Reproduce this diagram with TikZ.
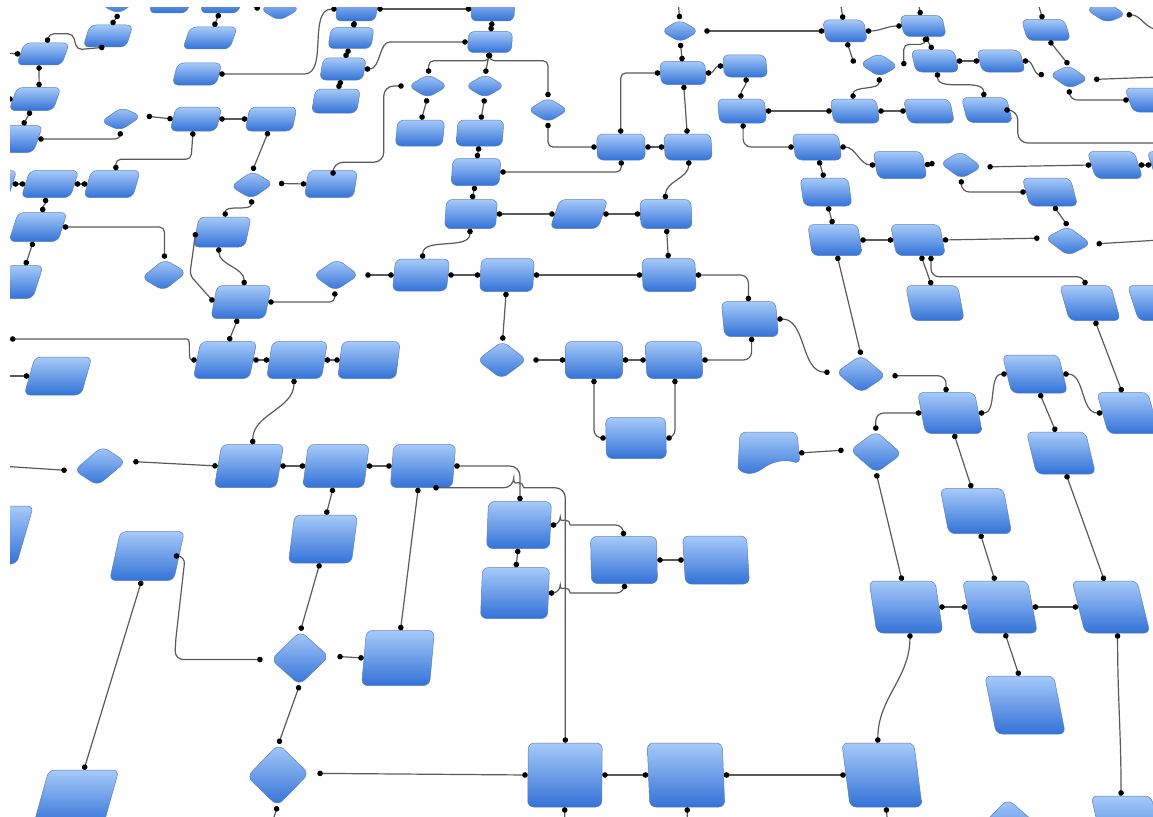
\documentclass[tikz,border=0pt]{standalone}
\usepackage{tikz}
\usetikzlibrary{shapes.geometric,arrows.meta}
\definecolor{FlowTop}{HTML}{A6CAF9}
\definecolor{FlowBottom}{HTML}{3372D7}
\definecolor{FlowEdge}{HTML}{5A82C0}
\definecolor{FlowLine}{HTML}{5A5A5A}

\begin{document}
\begin{tikzpicture}[
    x=1pt, y=-1pt,
    box/.style={rectangle, rounded corners=6pt, draw=FlowEdge, line width=0.5pt, top color=FlowTop, bottom color=FlowBottom, inner sep=0pt},
    dec/.style={diamond, rounded corners=7pt, draw=FlowEdge, line width=0.5pt, top color=FlowTop, bottom color=FlowBottom, inner sep=0pt},
    sz/.style 2 args={minimum width=#1, minimum height=#2},
    Dt/.tip={Circle[length=5.5pt, color=black]},
    link/.style={draw=FlowLine, line width=1.2pt, rounded corners=5pt, Dt-Dt}
  ]
  \useasboundingbox (0,0) rectangle (1153,816);
  \clip (10,8) rectangle (1153,816);

  \node[dec, sz={36}{22}, xslant=.15, rotate=7] (p0) at (119,3) {};
  \node[box, sz={38}{22}, xslant=.28] (p1) at (171,2) {};
  \node[box, sz={38}{22}, xslant=.25] (p2) at (222,2) {};
  \node[dec, sz={40}{24}, xslant=.1] (p3) at (280,9) {};
  \node[box, sz={43}{22}, xslant=.31] (A) at (108,36) {};
  \node[box, sz={47}{22}, xslant=.35] (a2) at (210,38) {};
  \node[box, sz={44}{22}, xslant=.25] (a3) at (197,74) {};
  \node[box, sz={45}{22}, xslant=.35] (B) at (43,54) {};
  \node[box, sz={44}{23}, xslant=.35] (C) at (35,99) {};
  \node[box, sz={40}{27}, xslant=.35] (D) at (18,139) {};
  \node[dec, sz={40}{24}, xslant=.2, rotate=8] (E) at (121,119) {};
  \node[box, sz={46}{24}, xslant=.24] (F) at (196,119) {};
  \node[box, sz={47}{24}, xslant=.2] (G) at (271,119) {};
  \node[box, sz={45}{27}, xslant=.33] (IL) at (-10,184) {};
  \node[box, sz={49}{27}, xslant=.32] (I) at (50,184) {};
  \node[box, sz={49}{27}, xslant=.28] (H) at (112,184) {};
  \node[box, sz={49}{29}, xslant=.32] (J) at (38,227) {};
  \node[dec, sz={45}{32}, xslant=.15, rotate=7] (K) at (164,275) {};
  \node[box, sz={36}{33}, xslant=.32] (L) at (20,282) {};
  \node[dec, sz={43}{28}, xslant=.1, rotate=4] (M) at (252,185) {};
  \node[box, sz={49}{27}, xslant=.15] (N) at (331,184) {};
  \node[box, sz={52}{30}, xslant=.21] (O) at (222,232) {};
  \node[box, sz={54}{33}, xslant=.19] (P) at (241,302) {};
  \node[dec, sz={46}{32}, xslant=.07] (Q) at (336,275) {};
  \node[box, sz={54}{32}, xslant=.1] (R) at (421,275) {};
  \node[box, sz={40}{24}, xslant=.15] (c1) at (357,9) {};
  \node[box, sz={43}{21}, xslant=.16] (c2) at (351,38) {};
  \node[box, sz={43}{22}, xslant=.16] (c3) at (343,69) {};
  \node[box, sz={45}{24}, xslant=.16] (c4) at (336,101) {};
  \node[box, sz={43}{24}, xslant=.06] (S) at (493,9) {};
  \node[box, sz={44}{21}, xslant=.06] (T) at (490,42) {};
  \node[dec, sz={40}{24}, xslant=.05] (U) at (428,86) {};
  \node[dec, sz={40}{24}, xslant=.03] (V) at (485,86) {};
  \node[dec, sz={41}{25}] (W) at (548,110) {};
  \node[box, sz={47}{26}, xslant=.1] (X) at (420,133) {};
  \node[box, sz={46}{26}, xslant=.07] (Y) at (480,133) {};
  \node[box, sz={48}{27}, xslant=.07] (Z) at (476,172) {};
  \node[box, sz={51}{29}, xslant=.07] (AH) at (471,214) {};
  \node[box, sz={48}{29}, xslant=.34] (AG) at (579,214) {};
  \node[box, sz={48}{26}, xslant=-.02] (AA) at (621,147) {};
  \node[box, sz={47}{26}, xslant=-.06] (AB) at (688,147) {};
  \node[dec, sz={38}{23}, xslant=-.03] (AC) at (680,31) {};
  \node[box, sz={45}{23}, xslant=-.06] (AD) at (683,73) {};
  \node[box, sz={43}{22}, xslant=-.1] (AE) at (745,66) {};
  \node[box, sz={47}{24}, xslant=-.09] (AF) at (742,111) {};
  \node[box, sz={51}{29}, xslant=-.04] (AI) at (666,214) {};
  \node[box, sz={53}{33}, xslant=.05] (AK) at (507,275) {};
  \node[box, sz={53}{33}, xslant=-.04] (AL) at (669,275) {};
  \node[box, sz={54}{35}, xslant=-.09] (AM) at (750,319) {};
  \node[box, sz={41}{22}, xslant=-.17] (BA) at (845,31) {};
  \node[box, sz={42}{21}, xslant=-.22] (BB) at (923,26) {};
  \node[dec, sz={39}{24}, xslant=-.09, rotate=-4] (BC) at (879,65) {};
  \node[box, sz={43}{22}, xslant=-.22] (BD) at (935,61) {};
  \node[box, sz={43}{22}, xslant=-.26] (BE) at (1001,61) {};
  \node[dec, sz={39}{24}, xslant=-.15, rotate=-7] (BF) at (1069,77) {};
  \node[box, sz={43}{21}, xslant=-.3] (BG) at (1046,30) {};
  \node[box, sz={42}{24}, xslant=-.35] (BH) at (1150,100) {};
  \node[dec, sz={40}{22}, xslant=-.17, rotate=-8] (DQ) at (1106,12) {};
  \node[box, sz={46}{24}, xslant=-.16] (BI) at (855,111) {};
  \node[box, sz={46}{24}, xslant=-.21] (BJ) at (929,111) {};
  \node[box, sz={45}{25}, xslant=-.25] (BK) at (987,110) {};
  \node[box, sz={46}{26}, xslant=-.14] (BL) at (817,147) {};
  \node[box, sz={49}{27}, xslant=-.19] (BM) at (900,165) {};
  \node[dec, sz={42}{28}, xslant=-.11, rotate=-5] (BN) at (961,165) {};
  \node[box, sz={47}{27}, xslant=-.32] (BO) at (1115,165) {};
  \node[box, sz={47}{27}, xslant=-.34] (BO2) at (1175,165) {};
  \node[box, sz={48}{28}, xslant=-.27] (BP) at (1050,192) {};
  \node[dec, sz={46}{30}, xslant=-.14, rotate=-7] (BQ) at (1068,241) {};
  \node[box, sz={48}{28}, xslant=-.14] (BR) at (826,192) {};
  \node[box, sz={50}{31}, xslant=-.14] (BS) at (835,240) {};
  \node[box, sz={49}{31}, xslant=-.19] (BT) at (918,240) {};
  \node[box, sz={52}{35}, xslant=-.19] (BU) at (935,303) {};
  \node[box, sz={51}{35}, xslant=-.28] (BV) at (1090,303) {};
  \node[box, sz={50}{35}, xslant=-.32] (BW) at (1158,303) {};
  \node[box, sz={56}{37}, xslant=.2] (CA) at (225,360) {};
  \node[box, sz={55}{37}, xslant=.16] (CB) at (297,360) {};
  \node[box, sz={58}{37}, xslant=.12] (CC) at (369,360) {};
  \node[box, sz={57}{38}, xslant=.28] (CD) at (58,376) {};
  \node[box, sz={62}{43}, xslant=.17] (CE) at (249,466) {};
  \node[dec, sz={50}{40}, xslant=.3, rotate=10] (CF) at (100,466) {};
  \node[box, sz={61}{43}, xslant=.13] (CG) at (336,466) {};
  \node[box, sz={62}{43}, xslant=.08] (CH) at (423,466) {};
  \node[box, sz={63}{48}, xslant=.13] (CI) at (323,539) {};
  \node[box, sz={50}{58}, xslant=.29] (CJ) at (0,535) {};
  \node[dec, sz={50}{38}, xslant=.03] (CK) at (502,360) {};
  \node[box, sz={57}{37}] (CL) at (594,360) {};
  \node[box, sz={56}{37}, xslant=-.05] (CM) at (674,360) {};
  \node[box, sz={60}{41}, xslant=-.02] (CN) at (636,438) {};
  \node[box, sz={63}{47}, xslant=.04] (CO) at (519,525) {};
  \node[box, sz={66}{47}, xslant=-.02] (CQ) at (624,560) {};
  \node[box, sz={64}{48}, xslant=-.06] (CR) at (716,560) {};
  \node[box, sz={67}{51}, xslant=.04] (CS) at (515,593) {};
  \node[dec, sz={52}{42}, xslant=-.08, rotate=-4] (CU) at (876,452) {};
  \node[dec, sz={50}{38}, xslant=-.07, rotate=-4] (CV) at (861,374) {};
  \node[box, sz={57}{41}, xslant=-.19] (CW) at (950,413) {};
  \node[box, sz={56}{38}, xslant=-.24] (CX) at (1035,374) {};
  \node[box, sz={51}{41}, xslant=-.28] (CY) at (1128,413) {};
  \node[box, sz={59}{42}, xslant=-.24] (CZ) at (1061,453) {};
  \node[box, sz={63}{45}, xslant=-.19] (DB) at (976,511) {};
  \node[box, sz={66}{52}, xslant=-.15] (DC) at (906,607) {};
  \node[box, sz={65}{52}, xslant=-.19] (DD) at (1000,607) {};
  \node[box, sz={65}{52}, xslant=-.25] (DE) at (1111,607) {};
  \node[box, sz={69}{58}, xslant=-.2] (DF) at (1025,705) {};
  \node[box, sz={72}{64}, xslant=-.13] (DG) at (882,775) {};
  \node[box, sz={60}{60}, xslant=-.23] (DH) at (1128,826) {};
  \node[dec, sz={56}{52}, xslant=-.09] (DN) at (1010,825) {};
  \node[box, sz={74}{64}, xslant=.01] (DA) at (565,775) {};
  \node[box, sz={75}{64}, xslant=-.04] (DM) at (686,775) {};
  \node[box, sz={64}{49}, xslant=.22] (DI) at (147,556) {};
  \node[box, sz={68}{55}, xslant=.09] (CP) at (398,658) {};
  \node[dec, sz={58}{54}, xslant=.07, rotate=3] (DJ) at (300,658) {};
  \node[box, sz={70}{56}, xslant=.28] (DK) at (76,798) {};
  \node[dec, sz={62}{62}, xslant=.07, rotate=3] (DL) at (278,775) {};

  \path[draw=FlowEdge, line width=0.5pt, top color=FlowTop, bottom color=FlowBottom]
    (738,468) [rounded corners=6pt] -- (740,432) -- (797,432) -- (800,464) [sharp corners]
    .. controls (785,459) and (772,461) .. (762,469) .. controls (752,476) and (742,474) .. (738,468) -- cycle;
  \coordinate (CT) at (799,453);

  \coordinate (eB) at (0,53);
  \coordinate (eC) at (0,99);
  \coordinate (eCA) at (10,339);
  \coordinate (eCD) at (0,376);
  \coordinate (eCF) at (0,466);
  \coordinate (eAC) at (678,0);
  \coordinate (eBA) at (840,0);
  \coordinate (eBB) at (918,0);
  \coordinate (eBG) at (1037,0);
  \coordinate (eBF) at (1160,77);
  \coordinate (eDQ) at (1160,30);
  \coordinate (eBK) at (1160,143);
  \coordinate (eBQ) at (1160,240);
  \coordinate (eDL) at (270,830);
  \coordinate (eDA) at (565,830);
  \coordinate (eDM) at (687,830);
  \coordinate (eDG) at (888,830);

  \draw[link] (p0.south) -- (A.north);
  \draw[link] (B.north) -- ++(2,-9) -- ++(24,0) -- ++(4,16) -- (A.south);
  \draw[link, -Dt] (eB) -- (B.west);
  \draw[link] (B.south) to[out=-90,in=90] (C.north);
  \draw[link, -Dt] (eC) -- (C.west);
  \draw[link] (C.south) -- (D.north);
  \draw[link] (D.east) -| (E.south);
  \draw[link] ([xshift=5]E.east) -- (F.west);
  \draw[link] (F.east) -- (G.west);
  \draw[link] (F.south) -- ++(-2,28) -| (H.north);
  \draw[link] (IL.east) -- (I.west);
  \draw[link] (I.east) -- (H.west);
  \draw[link] (I.south) to[out=-90,in=90] (J.north);
  \draw[link] (J.east) -| (K.north);
  \draw[link] (J.south) -- (L.north);
  \draw[link] (G.south) -- (M.north);
  \draw[link] ([xshift=5]M.east) -- (N.west);
  \draw[link] (M.south) to[out=-90,in=90] (O.north);
  \draw[link] (O.west) -- ++(-6,43) -- (P.west);
  \draw[link] (O.south) to[out=-90,in=90] (P.north);
  \draw[link] (P.east) -| (Q.south);
  \draw[link] ([xshift=6]Q.east) -- (R.west);
  \draw[link] (p2.south) -- (a2.north);
  \draw[link, -Dt] (p2.east) -- (p3.west);
  \draw[link] (a3.east) -- ++(80,0) to[out=0,in=180] (c1.west);
  \draw[link] (c1.east) -- (S.west);
  \draw[link] (c1.south) -- (c2.north);
  \draw[link] (c2.south) -- (c3.north);
  \draw[link] (c3.south) -- (c4.north);
  \draw[link] (c3.east) to[out=0,in=180] ++(30,-27) -- (T.west);
  \draw[link] (S.south) -- (T.north);
  \draw[link] (T.south) -- ++(0,8) -| (U.north);
  \draw[link] (T.south) -- (V.north);
  \draw[link] (T.south) -- ++(0,8) -| (W.north);
  \draw[link] (U.south) -- (X.north);
  \draw[link] (V.south) -- (Y.north);
  \draw[link] (Y.south) -- (Z.north);
  \draw[link, rounded corners=10pt] (N.north) -- ++(0,-8) -| ([xshift=-24]U.west) -- ([xshift=-4]U.west);
  \draw[link] (Z.east) -| (AA.south);
  \draw[link] (W.south) |- (AA.west);
  \draw[link] (AA.east) -- (AB.west);
  \draw[link, -Dt] (eAC) -- (AC.north);
  \draw[link] ([xshift=5]AC.east) -- (BA.west);
  \draw[link] (AC.south) -- (AD.north);
  \draw[link] (AD.west) -| (AA.north);
  \draw[link] (AD.south) -- (AB.north);
  \draw[link] (AD.east) to[out=0,in=180] (AE.west);
  \draw[link] (AE.south) to[out=-90,in=90] (AF.north);
  \draw[link, rounded corners=8pt] (AF.south) |- (BL.west);
  \draw[link] (AF.east) -- (BI.west);
  \draw[link] (Z.south) -- (AH.north);
  \draw[link] (AH.east) -- (AG.west);
  \draw[link] (AG.east) -- (AI.west);
  \draw[link] (AB.south) to[out=-90,in=90] (AI.north);
  \draw[link] (AH.south) to[out=-90,in=90] (R.north);
  \draw[link] (R.east) -- (AK.west);
  \draw[link] (AK.east) -- (AL.west);
  \draw[link] (AI.south) -- (AL.north);
  \draw[link, rounded corners=8pt] (AL.east) -| (AM.north);
  \draw[link] (AK.south) -- (CK.north);
  \draw[link] ([xshift=6]CK.east) -- (CL.west);
  \draw[link] (CL.east) -- (CM.west);
  \draw[link, rounded corners=8pt] (CM.east) -| (AM.south);
  \draw[link, rounded corners=8pt] (CL.south) |- (CN.west);
  \draw[link, rounded corners=8pt] (CM.south) |- (CN.east);
  \draw[link] (AM.east) to[out=0,in=180] ([xshift=-6]CV.west);
  \draw[link] (BS.south) -- (CV.north);
  \draw[link, rounded corners=8pt] ([xshift=6]CV.east) -| (CW.north);
  \draw[link] (CW.east) to[out=0,in=180] (CX.west);
  \draw[link] (CX.east) to[out=0,in=180] (CY.west);
  \draw[link] (BV.south) -- (CY.north);
  \draw[link, rounded corners=8pt] (CW.west) -| (CU.north);
  \draw[link] (CT) -- ([xshift=-6]CU.west);
  \draw[link] (CX.south) -- (CZ.north);
  \draw[link] (CW.south) -- (DB.north);
  \draw[link] (CU.south) -- (DC.north);
  \draw[link] (CZ.south) -- (DE.north);
  \draw[link] (DB.south) -- (DD.north);
  \draw[link] (DC.east) -- (DD.west);
  \draw[link] (DD.east) -- (DE.west);
  \draw[link] (DD.south) -- (DF.north);
  \draw[link] (DC.south) to[out=-90,in=90] (DG.north);
  \draw[link] (DE.south) to[out=-90,in=90] (DH.north);
  \draw[link] (DA.east) -- (DM.west);
  \draw[link] (DM.east) -- (DG.west);
  \draw[link] ([xshift=8]DL.east) -- (DA.west);
  \draw[link, rounded corners=10pt] ([xshift=12]CH.south) -- ++(80.5,0) [sharp corners] arc[start angle=180, end angle=360, radius=5] [rounded corners=10pt] -| (DA.north);
  \draw[link] ([xshift=-3]CH.south) -- (CP.north);
  \draw[link, rounded corners=10pt] (CH.east) -| (CO.north);
  \draw[link, rounded corners=8pt] (CO.east) -- ++(9.5,0) [sharp corners] arc[start angle=180, end angle=360, radius=5] [rounded corners=8pt] -| (CQ.north);
  \draw[link] (CO.south) -- (CS.north);
  \draw[link, rounded corners=8pt] (CS.east) -- ++(11.5,0) [sharp corners] arc[start angle=180, end angle=360, radius=5] [rounded corners=8pt] -| (CQ.south);
  \draw[link] (CQ.east) -- (CR.west);
  \draw[link] (CB.south) to[out=-90,in=90] (CE.north);
  \draw[link] (P.south) -- (CA.north);
  \draw[link] (eCA) -- ++(172,0) to[out=0,in=180] (CA.west);
  \draw[link] (CA.east) -- (CB.west);
  \draw[link] (CB.east) -- (CC.west);
  \draw[link, -Dt] (eCD) -- (CD.west);
  \draw[link, -Dt] (eCF) -- ([xshift=-7]CF.west);
  \draw[link] ([xshift=7]CF.east) -- (CE.west);
  \draw[link] (CE.east) -- (CG.west);
  \draw[link] (CG.east) -- (CH.west);
  \draw[link] (CG.south) -- (CI.north);
  \draw[link] (CI.south) -- (DJ.north);
  \draw[link, rounded corners=8pt] (DI.east) -- ++(6,0) -- ++(-10,88) |- ([xshift=-8]DJ.west);
  \draw[link] ([xshift=8]DJ.east) -- (CP.west);
  \draw[link] (DJ.south) -- (DL.north);
  \draw[link] (DI.south) -- (DK.north);
  \draw[link, Dt-] (DL.south) -- (eDL);
  \draw[link, Dt-] (DA.south) -- (eDA);
  \draw[link, Dt-] (DM.south) -- (eDM);
  \draw[link, Dt-] (DG.south) -- (eDG);
  \draw[link, -Dt] (eBA) -- (BA.north);
  \draw[link, -Dt] (eBB) -- (BB.north);
  \draw[link, -Dt] (eBG) -- (BG.north);
  \draw[link] (BA.east) to[out=0,in=180] (BB.west);
  \draw[link] (BA.south) -- ([xshift=-5]BC.west);
  \draw[link] ([xshift=5]BC.east) -- ++(0,-22) -| (BB.south);
  \draw[link] (BB.south) -- (BD.north);
  \draw[link] (BD.east) -- (BE.west);
  \draw[link] (BE.east) to[out=0,in=180] ([xshift=-5]BF.west);
  \draw[link] (BG.south) -- (BF.north);
  \draw[link, Dt-] ([xshift=5]BF.east) -- (eBF);
  \draw[link, rounded corners=8pt] (BF.south) |- (BH.west);
  \draw[link, Dt-] (DQ.east) to[out=0,in=180] (eDQ);
  \draw[link] (BC.south) to[out=-90,in=90] (BI.north);
  \draw[link] (BI.east) -- (BJ.west);
  \draw[link] (BD.south) to[out=-90,in=90] (BK.north);
  \draw[link, Dt-, rounded corners=10pt] (BK.east) -- ++(8,0) |- (eBK);
  \draw[link] (BL.east) to[out=0,in=180] (BM.west);
  \draw[link] (BM.east) -- ([xshift=-5]BN.west);
  \draw[link] ([xshift=5]BN.east) -- (BO.west);
  \draw[link] (BO.east) -- (BO2.west);
  \draw[link, rounded corners=8pt] (BN.south) |- (BP.west);
  \draw[link] (BP.south) -- (BQ.north);
  \draw[link, Dt-] ([xshift=5]BQ.east) -- (eBQ);
  \draw[link] (BL.south) -- (BR.north);
  \draw[link] (BR.south) -- (BS.north);
  \draw[link] (BS.east) -- (BT.west);
  \draw[link] (BT.east) -- ([xshift=-5]BQ.west);
  \draw[link] (BT.south) -- (BU.north);
  \draw[link, rounded corners=8pt] ([xshift=10]BT.south) -- ++(0,21) -| (BV.north);
\end{tikzpicture}
\end{document}
